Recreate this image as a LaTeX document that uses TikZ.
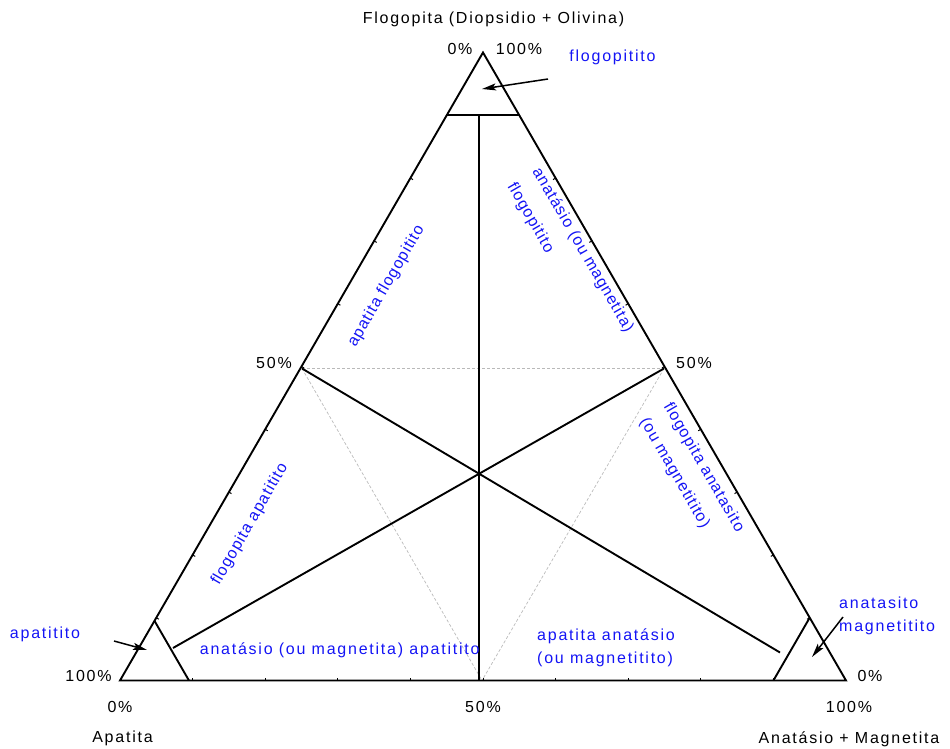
\documentclass[tikz,border=0pt]{standalone}
\usepackage{fontspec}
\setmainfont{Liberation Sans}
\newfontfamily\hfont[LetterSpace=11]{Liberation Sans}
\newfontfamily\rfont[LetterSpace=6]{Liberation Sans}
\usetikzlibrary{calc,arrows.meta}
\definecolor{bluecol}{RGB}{20,20,245}
\definecolor{dashgray}{RGB}{185,185,185}
\tikzset{
  edgeline/.style={line width=1.9pt},
  innerline/.style={line width=1.9pt},
  dashline/.style={line width=0.7pt, dashgray, dash pattern=on 3pt off 2pt},
  tickline/.style={line width=1pt},
  arrowline/.style={line width=1.5pt, -{Stealth[length=14pt,width=7pt,inset=3pt]}},
  lbl/.style={font=\hfont\fontsize{16}{19}\selectfont, inner sep=0pt, anchor=base},
  blu/.style={lbl, text=bluecol},
  rotlbl/.style={font=\rfont\fontsize{16}{19}\selectfont, text=bluecol, inner sep=0pt, anchor=base west},
}
\begin{document}
\begin{tikzpicture}[x=1pt,y=-1pt]
\useasboundingbox (0,0) rectangle (950,749);
% vertices
\coordinate (A) at (120,680.5);
\coordinate (B) at (846,680.5);
\coordinate (C) at (483,52.5);
% small corner triangles
\coordinate (T1) at ($(C)!0.1!(A)$);
\coordinate (T2) at ($(C)!0.1!(B)$);
\coordinate (L1) at ($(A)!0.095!(C)$);
\coordinate (L2) at ($(A)!0.095!(B)$);
\coordinate (R1) at ($(B)!0.1!(C)$);
\coordinate (R2) at ($(B)!0.1!(A)$);
% midpoints and inner line ends
\coordinate (ML) at (302,368.5);
\coordinate (MR) at (664,368.5);
\coordinate (MB) at (482,680.5);
\coordinate (V1) at (479,115.3);
\coordinate (V2) at (479,680.5);
\coordinate (E1) at (780,652.5);
\coordinate (E2) at (173,648);
% arrows ends
\coordinate (a1s) at (548,79);
\coordinate (a1e) at (482,89);
\coordinate (a2s) at (114,641);
\coordinate (a2e) at (147,650);
\coordinate (a3s) at (843,617);
\coordinate (a3e) at (812,657);

% dashed midpoint triangle
\draw[dashline] (ML) -- (MR);
\draw[dashline] (ML) -- (MB);
\draw[dashline] (MR) -- (MB);

% ticks
\foreach \i in {1,...,8}{
  \draw[tickline] ($(A)!\i/10!(B)$) -- ++(0,-3);
  \draw[tickline] ($(A)!\i/10!(C)$) -- ++(2.6,1.5);
  \draw[tickline] ($(B)!\i/10!(C)$) -- ++(-2.6,1.5);
}
\draw[tickline] ($(A)!0.9!(B)$) -- ++(0,-3);

% main triangle
\draw[edgeline] (A) -- (B) -- (C) -- cycle;
% corner lines
\draw[innerline] (T1) -- (T2);
\draw[innerline] (L1) -- (L2);
\draw[innerline] (R1) -- (R2);
% inner lines
\draw[innerline] (V1) -- (V2);
\draw[innerline] (ML) -- (E1);
\draw[innerline] (MR) -- (E2);

% arrows
\draw[arrowline] (a1s) -- (a1e);
\draw[arrowline] (a2s) -- (a2e);
\draw[arrowline] (a3s) -- (a3e);

% black labels
\node[lbl] (tFlog) at (493.5,23.5) {Flogopita (Diopsidio + Olivina)};
\node[lbl] (tTop0) at (460,55) {0\%};
\node[lbl] (tTop100) at (519,55) {100\%};
\node[lbl] (tL50) at (274,368) {50\%};
\node[lbl] (tR50) at (694,368) {50\%};
\node[lbl] (tL100) at (88.5,681.7) {100\%};
\node[lbl] (tB0) at (120,712) {0\%};
\node[lbl] (tB50) at (483,712) {50\%};
\node[lbl] (tB100) at (849,712) {100\%};
\node[lbl] (tR0) at (870,681.7) {0\%};
\node[lbl] (tApa) at (122.5,742.7) {Apatita};
\node[lbl] (tAna) at (849,743.3) {Anatásio + Magnetita};

% blue labels
\node[blu] (bFlog) at (612.5,62) {flogopitito};
\node[blu] (bApa) at (45,638.3) {apatitito};
\node[blu, anchor=base west] (bAna1) at (839,608.3) {anatasito};
\node[blu, anchor=base west] (bAna2) at (839,631.7) {magnetitito};
\node[blu] (bBotL) at (339.7,654) {anatásio (ou magnetita) apatitito};
\node[blu, anchor=base west] (bBotR1) at (537,640) {apatita anatásio};
\node[blu, anchor=base west] (bBotR2) at (537,663) {(ou magnetitito)};

% rotated labels
\node[rotlbl, rotate=60] (rApaFlog) at (355.5,348) {apatita flogopitito};
\node[rotlbl, rotate=60] (rFlogApa) at (219,586) {flogopita apatitito};
\node[rotlbl, rotate=-60] (rAnaFlog1) at (532,171) {anatásio (ou magnetita)};
\node[rotlbl, rotate=-60] (rAnaFlog2) at (507,186) {flogopitito};
\node[rotlbl, rotate=-60] (rFlogAna1) at (663.3,406) {flogopita anatasito};
\node[rotlbl, rotate=-60] (rFlogAna2) at (639.6,421) {(ou magnetitito)};
\end{tikzpicture}
\end{document}
